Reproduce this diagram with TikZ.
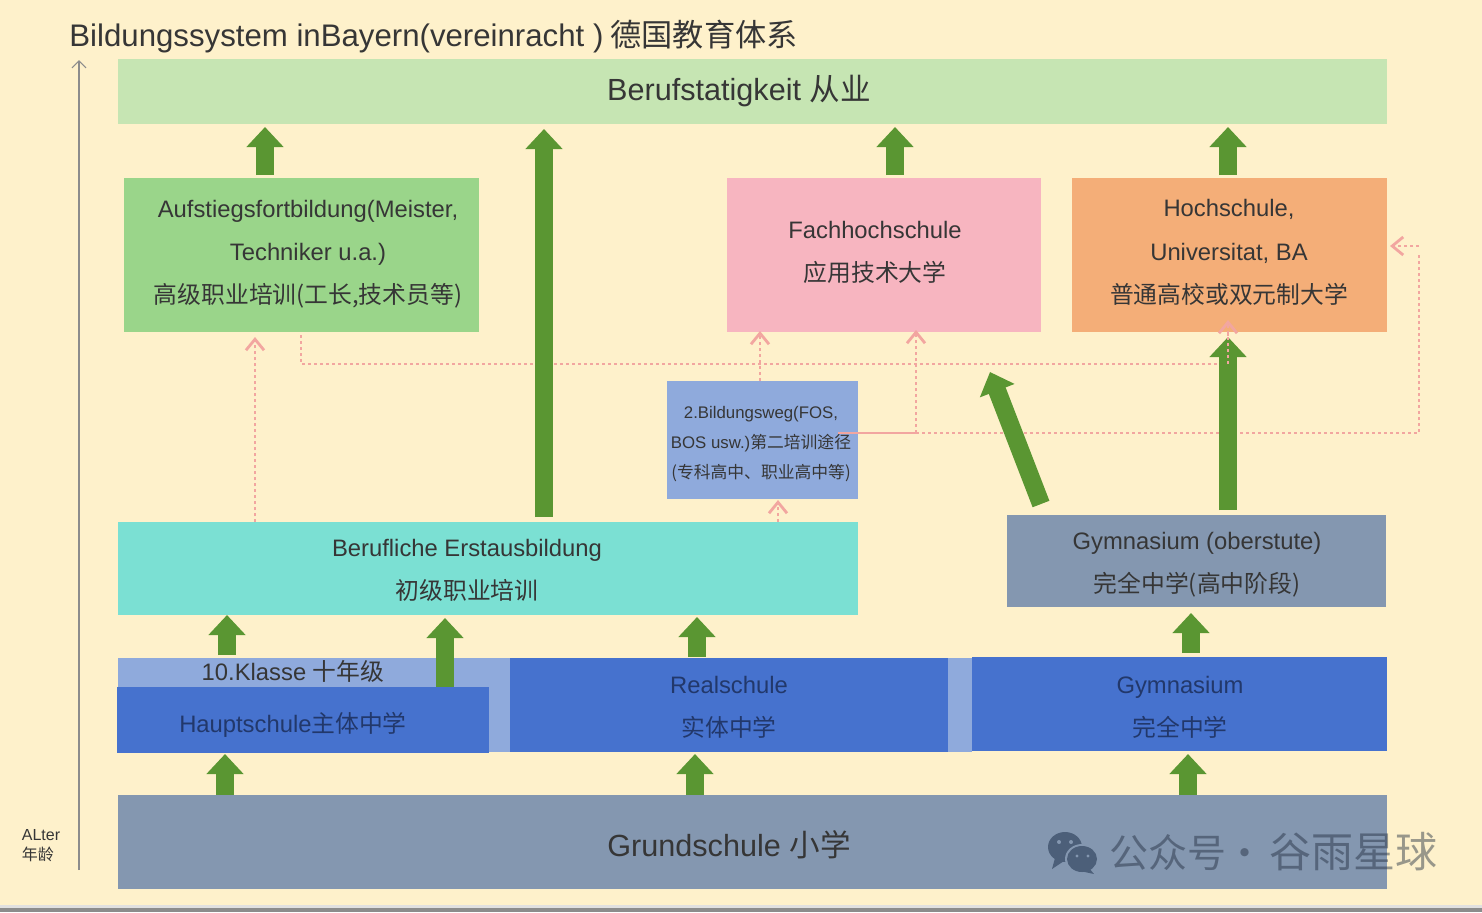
\documentclass[tikz,border=0pt]{standalone}
\usepackage{fontspec}
\setmainfont{Liberation Sans}
\newfontfamily\cjk{Noto Sans CJK SC}
\newcommand\zh[1]{{\cjk #1}}
\usetikzlibrary{arrows.meta}
\definecolor{bgc}{HTML}{FEF1CB}
\definecolor{cberuf}{HTML}{C6E5B3}
\definecolor{cauf}{HTML}{9AD58A}
\definecolor{cfach}{HTML}{F7B5C0}
\definecolor{choch}{HTML}{F4AE78}
\definecolor{clight}{HTML}{8FAADC}
\definecolor{cturq}{HTML}{7BE0D3}
\definecolor{cslate}{HTML}{8497B0}
\definecolor{cblue}{HTML}{4672CE}
\definecolor{cgreen}{HTML}{5A9632}
\definecolor{cpink}{HTML}{F2A6A0}
\definecolor{ctxt}{HTML}{363636}
\definecolor{cdeep}{HTML}{22386B}
\definecolor{cmark}{HTML}{4C5F79}
\definecolor{cmarktxt}{HTML}{1E2A3C}
\tikzset{
  x=0.5pt,y=-0.5pt,
  boxn/.style={inner sep=0pt,outer sep=0pt,anchor=center},
  lab/.style={inner sep=0pt,align=center,text=ctxt,font=\fontsize{11.9}{21.6}\selectfont},
  labbig/.style={lab,font=\fontsize{15.3}{18}\selectfont},
  labsmall/.style={lab,font=\fontsize{8.4}{15.2}\selectfont},
  labdeep/.style={lab,text=cdeep},
  bigarrow/.style={draw=cgreen,line width=9pt,-{Triangle[width=18pt,length=10pt]}},
  dotline/.style={draw=cpink,line width=1.4pt,dash pattern=on 1.5pt off 1.5pt},
  pinkarrow/.style={dotline,-{Straight Barb[width=9pt,length=5.5pt]}},
  axisline/.style={draw=black!45,line width=0.6pt,-{Straight Barb[width=7pt,length=3.5pt]}},
}
% name, x1,y1,x2,y2, colour
\newcommand\bx[6]{\node[boxn,fill=#6,minimum width={(#4-#2)*0.5pt},minimum height={(#5-#3)*0.5pt}] (#1) at ({(#2+#4)/2},{(#3+#5)/2}) {};}
\newcommand\garr[6]{\draw[bigarrow] ([shift={(#2,#3)}]#1) -- ([shift={(#5,#6)}]#4);}
\begin{document}
\begin{tikzpicture}
\useasboundingbox (0,0) rectangle (1482,912);
\fill[bgc] (0,0) rectangle (1482,912);
\fill[black!12] (0,905) rectangle (1482,908);
\fill[black!45] (0,908) rectangle (1482,912);

% boxes
\bx{beruf}{118}{59}{1387}{124}{cberuf}
\bx{auf}{124}{178}{479}{332}{cauf}
\bx{fach}{727}{178}{1041}{332}{cfach}
\bx{hoch}{1072}{178}{1387}{332}{choch}
\bx{bild}{667}{381}{858}{499}{clight}
\bx{erst}{118}{522}{858}{615}{cturq}
\bx{gymob}{1007}{515}{1386}{607}{cslate}
\bx{klasse}{118}{658}{972}{752}{clight}
\bx{haupt}{117}{687}{489}{753}{cblue}
\bx{real}{510}{658}{948}{752}{cblue}
\bx{gym}{972}{657}{1387}{751}{cblue}
\bx{grund}{118}{795}{1387}{889}{cslate}

% dotted paths
\coordinate (junction) at (916,433);
\coordinate (outer) at (1419,433);
\draw[pinkarrow] ([shift={(-233,0)}]erst.north) -- ([shift={(-46.5,5)}]auf.south);
\draw[dotline] ([shift={(-0.5,3)}]auf.south) |- ([shift={(-1.5,32)}]hoch.south) -- ([shift={(-1.5,0)}]hoch.south);
\draw[pinkarrow] ([shift={(-2.5,0)}]bild.north) -- ([shift={(-124,-1)}]fach.south);
\draw[pinkarrow] (junction) -- ([shift={(32,-2)}]fach.south);
\draw[pinkarrow] ([shift={(15.5,0)}]erst.north -| bild.south) -- ([shift={(15.5,1)}]bild.south);
\draw[dotline] (junction) -- (outer) -- (outer |- hoch.east) ;
\draw[pinkarrow] ([yshift=4.5pt]outer |- hoch.east) -- ([shift={(3,-9)}]hoch.east);

% green arrows
\garr{auf.north}{-36.5}{-3}{beruf.south}{-487.5}{3}
\garr{erst.north}{56}{-5}{beruf.south}{-208.5}{5}
\garr{fach.north}{11}{-3}{beruf.south}{142.5}{3}
\garr{hoch.north}{-1.5}{-3}{beruf.south}{475.5}{3}
\garr{gymob.north}{31.5}{-5}{hoch.south}{-1.5}{5}
\garr{gymob.north}{-155.5}{-11}{fach.south}{106}{40}
\garr{gym.north}{11.5}{-4}{gymob.south}{-5.5}{6}
\garr{klasse.north}{-318}{-3}{erst.south}{-261}{0}
\garr{haupt.north}{142}{0}{erst.south}{-43}{3}
\garr{real.north}{-32}{-1}{erst.south}{209}{2}
\garr{grund.north}{-527.5}{0}{haupt.south}{-78}{1}
\garr{grund.north}{-57.5}{0}{real.south}{-34}{2}
\garr{grund.north}{435.5}{0}{gym.south}{8.5}{3}

% pink head over the green arrow, and the solid stub
\draw[pinkarrow] ([shift={(-1.5,32)}]hoch.south) -- ([shift={(-1.5,-12)}]hoch.south);
\draw[draw=cpink,line width=1.4pt] ([shift={(-20,-7)}]bild.east) -- (junction);

% age axis
\coordinate (axbot) at (79,870);
\coordinate (axtop) at (79,60);
\draw[axisline] (axbot) -- (axtop);

% texts
\node[labbig,anchor=west,font=\fontsize{15.6}{18}\selectfont] (title) at (69,37) {Bildungssystem inBayern(vereinracht )\hspace{3.5pt}\zh{德国教育体系}};
\node[labbig] (tberuf) at (739,91) {Berufstatigkeit \zh{从业}};
\node[lab] (tauf) at (308,254) {Aufstiegsfortbildung(Meister,\\Techniker u.a.)\\\zh{高级职业培训(工长,技术员等)}};
\node[lab] (tfach) at (875,252.5) {Fachhochschule\\\zh{应用技术大学}};
\node[lab] (thoch) at (1229,252.5) {Hochschule,\\Universitat, BA\\\zh{普通高校或双元制大学}};
\node[labsmall] (tbild) at (761,444) {2.Bildungsweg(FOS,\\BOS usw.)\zh{第二培训途径}\\\zh{(专科高中、职业高中等)}};
\node[lab] (terst) at (467,570.5) {Berufliche Erstausbildung\\\zh{初级职业培训}};
\node[lab] (tgymob) at (1197,565) {Gymnasium (oberstute)\\\zh{完全中学(高中阶段)}};
\node[lab] (tklasse) at (293,671) {10.Klasse \zh{十年级}};
\node[labdeep] (thaupt) at (293,725) {Hauptschule\zh{主体中学}};
\node[labdeep] (treal) at (729,707.5) {Realschule\\\zh{实体中学}};
\node[labdeep] (tgym) at (1180,707.5) {Gymnasium\\\zh{完全中学}};
\node[labbig] (tgrund) at (729,845) {Grundschule \zh{小学}};
\node[inner sep=0pt,align=left,text=ctxt,font=\fontsize{8}{10}\selectfont] (talter) at (41,846) {ALter\\\zh{年龄}};

% watermark
\fill[cmark] (1065,847) ellipse [x radius=17,y radius=15];
\fill[cmark] (1055,858) -- (1052,869) -- (1064,861) -- cycle;
\fill[cslate] (1082,859) ellipse [x radius=17,y radius=15];
\fill[cmark] (1082,859) ellipse [x radius=15,y radius=13];
\fill[cmark] (1089,868) -- (1094,874) -- (1080,871) -- cycle;
\fill[cslate] (1059,842) circle [radius=2] (1071,842) circle [radius=2] (1077,856) circle [radius=1.7] (1088,856) circle [radius=1.7];
\node[inner sep=0pt,anchor=west,text=cmarktxt,text opacity=0.45,font=\fontsize{19.5}{22}\selectfont\cjk] (mark) at (1109,852) {公众号\hspace{-0.5pt}·\hspace{2.5pt}{\fontsize{21}{22}\selectfont 谷雨星球}};
\end{tikzpicture}
\end{document}
